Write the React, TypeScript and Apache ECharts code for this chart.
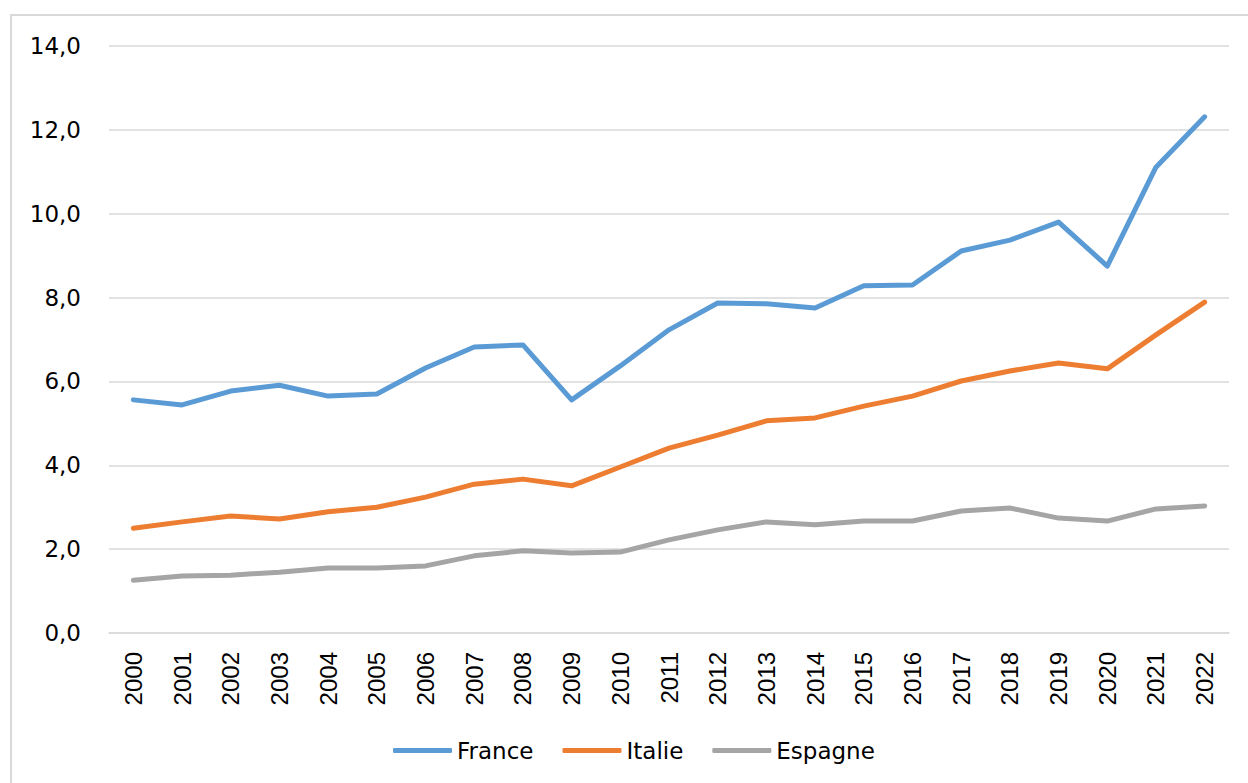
import React, { useEffect, useRef } from "react";
import * as echarts from "echarts";

const years = ["2000","2001","2002","2003","2004","2005","2006","2007","2008","2009","2010","2011","2012","2013","2014","2015","2016","2017","2018","2019","2020","2021","2022"];
const france = [5.56,5.44,5.77,5.91,5.65,5.70,6.32,6.82,6.87,5.56,6.37,7.23,7.87,7.85,7.75,8.28,8.30,9.11,9.37,9.80,8.75,11.11,12.31];
const italie = [2.50,2.65,2.79,2.72,2.89,3.00,3.24,3.55,3.67,3.51,3.96,4.41,4.72,5.06,5.13,5.41,5.65,6.01,6.25,6.44,6.30,7.11,7.89];
const espagne = [1.26,1.36,1.38,1.45,1.55,1.55,1.60,1.84,1.96,1.91,1.93,2.22,2.46,2.65,2.58,2.67,2.67,2.91,2.98,2.74,2.67,2.96,3.03];
const seriesNames = ["France", "Italie", "Espagne"];
const colors = ["#5B9BD5", "#ED7D31", "#A5A5A5"];

export default function App() {
  const ref = useRef<HTMLDivElement>(null);
  useEffect(() => {
    if (!ref.current) return;
    const chart = echarts.init(ref.current, null, { renderer: "svg" });
    const data = [france, italie, espagne];
    chart.setOption({
      animation: false,
      backgroundColor: "#fff",
      graphic: [
        {
          type: "rect",
          shape: { x: 11, y: 15, width: 1400, height: 1000 },
          style: { fill: "none", stroke: "#D9D9D9", lineWidth: 2 },
          silent: true,
        },
      ],
      grid: { left: 109, right: 19, top: 46, bottom: 150 },
      legend: {
        data: seriesNames.map((n) => ({ name: n, icon: "roundRect" })),
        left: 388,
        top: 734,
        itemWidth: 59,
        itemHeight: 5,
        itemGap: 29,
        textStyle: { fontFamily: "DejaVu Sans", fontSize: 23, color: "#000" },
      },
      xAxis: {
        type: "category",
        data: years,
        boundaryGap: true,
        axisLine: { show: true, lineStyle: { color: "#D9D9D9", width: 1.5 } },
        axisTick: { show: false },
        axisLabel: {
          rotate: 90,
          margin: 19,
          interval: 0,
          fontFamily: "Liberation Sans",
          fontSize: 24,
          color: "#000",
        },
      },
      yAxis: {
        type: "value",
        min: 0,
        max: 14,
        interval: 2,
        axisLine: { show: false },
        axisTick: { show: false },
        splitLine: { lineStyle: { color: "#D9D9D9", width: 1.5 } },
        axisLabel: {
          margin: 28,
          fontFamily: "DejaVu Sans",
          fontSize: 23,
          color: "#000",
          formatter: (v: number) => v.toFixed(1).replace(".", ","),
        },
      },
      series: seriesNames.map((name, i) => ({
        name,
        type: "line",
        data: data[i],
        symbol: "none",
        color: colors[i],
        lineStyle: { width: 5, color: colors[i], cap: "round", join: "round" },
      })),
    });
    return () => chart.dispose();
  }, []);
  return (
    <div
      ref={ref}
      style={{ position: "fixed", left: 0, top: 0, width: 1248, height: 783 }}
    />
  );
}
